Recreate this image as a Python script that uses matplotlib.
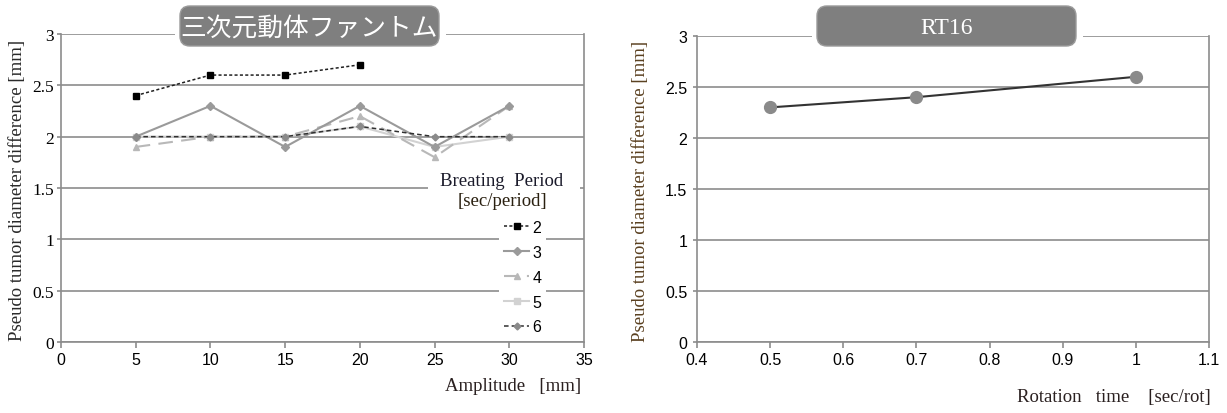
import matplotlib
matplotlib.use("Agg")
import matplotlib.pyplot as plt
from matplotlib.patches import FancyBboxPatch, Rectangle

# ---------------- data ----------------
amplitude = [5, 10, 15, 20, 25, 30]
period_labels = ["2", "3", "4", "5", "6"]
p2 = [2.4, 2.6, 2.6, 2.7]
p3 = [2.0, 2.3, 1.9, 2.3, 1.9, 2.3]
p4 = [1.9, 2.0, 2.0, 2.2, 1.8, 2.3]
p5 = [2.0, 2.0, 2.0, 2.1, 1.9, 2.0]
p6 = [2.0, 2.0, 2.0, 2.1, 2.0, 2.0]

rotation_time = [0.5, 0.7, 1.0]
rt16 = [2.3, 2.4, 2.6]

left_xticks = [0, 5, 10, 15, 20, 25, 30, 35]
right_xticks = [0.4, 0.5, 0.6, 0.7, 0.8, 0.9, 1.0, 1.1]
right_xticklabels = ["0.4", "0.5", "0.6", "0.7", "0.8", "0.9", "1", "1.1"]
yticks = [0, 0.5, 1, 1.5, 2, 2.5, 3]
yticklabels = ["0", "0.5", "1", "1.5", "2", "2.5", "3"]

title_left = "三次元動体ファントム"
title_right = "RT16"
ylabel = "Pseudo tumor diameter difference [mm]"

# ---------------- figure ----------------
W, H = 1227, 414
fig = plt.figure(figsize=(W / 100, H / 100), dpi=100)
fig.patch.set_facecolor("white")

def fx(px):
    return px / W

def fy(py):
    return 1 - py / H

GRID = "#8c8c8c"
SERIF = ["Liberation Serif", "DejaVu Serif"]
SANS = ["Liberation Sans Narrow", "Liberation Sans", "DejaVu Sans"]
CJK = ["Noto Sans CJK JP", "DejaVu Sans"]

def style_axes(ax):
    ax.spines["top"].set_visible(False)
    for s in ["left", "bottom", "right"]:
        ax.spines[s].set_color(GRID)
        ax.spines[s].set_linewidth(1.2)
    ax.set_yticks(yticks)
    ax.set_ylim(0, 3)
    ax.grid(axis="y", color=GRID, lw=1.2)
    ax.set_axisbelow(True)
    ax.tick_params(axis="both", direction="out", color=GRID, length=4, width=1.2)

# ---- left axes ----
axL = fig.add_axes([fx(61), fy(343), fx(584) - fx(61), fy(35) - fy(343)])
style_axes(axL)
axL.set_xlim(0, 35)
axL.set_xticks(left_xticks)
axL.set_xticklabels([str(v) for v in left_xticks], fontfamily=SANS, fontsize=11.5)
axL.set_yticklabels(yticklabels, fontfamily=SERIF, fontsize=12.5)
axL.tick_params(axis="y", length=3, pad=2)

h5, = axL.plot(amplitude, p5, color="#d2d2d2", lw=1.5, marker="s", ms=4,
               mfc="#d2d2d2", mec="#d2d2d2", zorder=3)
h4, = axL.plot(amplitude, p4, color="#b8b8b8", lw=1.5, ls=(0, (7, 4)), marker="^", ms=5,
               mfc="#b8b8b8", mec="#b8b8b8", zorder=4)
h3, = axL.plot(amplitude, p3, color="#9a9a9a", lw=1.5, marker="D", ms=4,
               mfc="#9a9a9a", mec="#9a9a9a", zorder=5)
h6, = axL.plot(amplitude, p6, color="#303030", lw=1.1, ls=(0, (3, 2)), marker="D", ms=3.5,
               mfc="#8a8a8a", mec="#8a8a8a", zorder=6)
h2, = axL.plot(amplitude[:len(p2)], p2, color="#202020", lw=1.1, ls=(0, (2, 1.5)), marker="s", ms=5,
               mfc="black", mec="black", zorder=7)

# legend
leg = axL.legend([h2, h3, h4, h5, h6], period_labels, loc="upper left",
                 bbox_to_anchor=(fx(499), fy(216)), bbox_transform=fig.transFigure,
                 frameon=True, facecolor="white", edgecolor="none", framealpha=1,
                 fancybox=False, handlelength=1.6, handletextpad=0.2, labelspacing=0.62,
                 borderpad=0.3, borderaxespad=0, prop={"family": SANS, "size": 11.5})
leg.set_zorder(10)
fig.text(fx(502), fy(182), "Breating  Period", ha="center", va="center",
         fontfamily=SERIF, fontsize=13.5, color="#1a1a2a", zorder=11)
fig.text(fx(502), fy(202), "[sec/period]", ha="center", va="center",
         fontfamily=SERIF, fontsize=13.5, color="#2a2010", zorder=11)
fig.patches.append(Rectangle((fx(428), fy(215)), fx(580) - fx(428), fy(170) - fy(215),
                             transform=fig.transFigure, facecolor="white", edgecolor="none",
                             zorder=1))

fig.text(fx(18), (fy(35) + fy(345)) / 2, ylabel, rotation=90, ha="center", va="center",
         fontfamily=SERIF, fontsize=13.5, color="#2a2a2a")
fig.text(fx(581), fy(387), "Amplitude   [mm]", ha="right", va="center",
         fontfamily=SERIF, fontsize=13.5, color="#2a2020")

# ---- right axes ----
axR = fig.add_axes([fx(697), fy(343), fx(1209) - fx(697), fy(37) - fy(343)])
style_axes(axR)
axR.set_xlim(0.4, 1.1)
axR.set_xticks(right_xticks)
axR.set_xticklabels(right_xticklabels, fontfamily=SANS, fontsize=11.5)
axR.set_yticklabels(yticklabels, fontfamily=SANS, fontsize=11.5)
axR.tick_params(axis="y", length=3, pad=4)
axR.plot(rotation_time, rt16, color="#333333", lw=1.5, marker="o", ms=8.5,
         mfc="#8a8a8a", mec="#8a8a8a", zorder=5, clip_on=False)

fig.text(fx(641), (fy(37) + fy(345)) / 2, ylabel, rotation=90, ha="center", va="center",
         fontfamily=SERIF, fontsize=13.5, color="#5a4020")
fig.text(fx(1211), fy(398), "Rotation   time    [sec/rot]", ha="right", va="center",
         fontfamily=SERIF, fontsize=13.5, color="#2a2020")

# ---- title boxes ----
def title_box(x0, x1, gx0, gx1, text, family, size):
    fig.patches.append(Rectangle((fx(gx0), fy(47)), fx(gx1) - fx(gx0), fy(5) - fy(47),
                                 transform=fig.transFigure, facecolor="white",
                                 edgecolor="none", zorder=2))
    fig.patches.append(FancyBboxPatch((fx(x0), fy(47)), fx(x1) - fx(x0), fy(7) - fy(47),
                                      boxstyle="round,pad=0,rounding_size=0.008",
                                      transform=fig.transFigure, facecolor="#7f7f7f",
                                      edgecolor="#9a9a9a", lw=1, zorder=3,
                                      mutation_aspect=W / H))
    fig.text((fx(x0) + fx(x1)) / 2, fy(29), text, ha="center", va="center",
             fontfamily=family, fontsize=size, color="white", zorder=4)

title_box(180, 439, 175, 446, title_left, CJK, 18.5)
title_box(817, 1076, 812, 1083, title_right, SERIF, 17)

fig.savefig("out.png", dpi=100)
